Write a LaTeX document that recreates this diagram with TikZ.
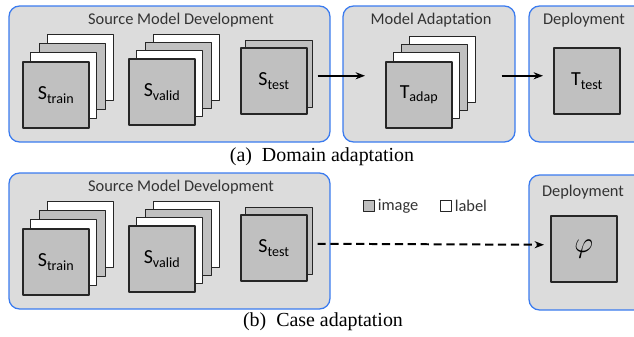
\documentclass[tikz,border=0pt]{standalone}
\usepackage{fontspec}
\setmainfont{Liberation Serif}
\newfontfamily\calib{Carlito}
\usetikzlibrary{arrows.meta}

\definecolor{panelfill}{HTML}{DCDCDC}
\definecolor{panelline}{HTML}{3A7BEF}
\definecolor{imgfill}{HTML}{C0C0C0}
\newcommand\imglabel[2]{#1\raisebox{-0.4ex}{\fontsize{12}{12}\selectfont #2}}

\begin{document}
\begin{tikzpicture}[x=0.03cm, y=-0.03cm, line join=round, >={Stealth[length=8pt,width=6pt]},
	panel/.style={draw=panelline, fill=panelfill, line width=1.1pt, rounded corners=9pt},
	sheet/.style={draw=black!85, line width=0.8pt},
	img/.style={draw=black!85, fill=imgfill, line width=1.3pt, minimum size=1.98cm, inner sep=0pt, anchor=north west, font=\calib\fontsize{17}{17}\selectfont},
	title/.style={font=\calib\fontsize{14}{14}\selectfont, text=black!80},
	legend/.style={font=\calib\fontsize{14}{14}\selectfont, text=black!80, anchor=west, inner sep=2pt},
	capt/.style={font=\fontsize{17}{17}\selectfont},
	flow/.style={->, line width=1.4pt}]
	\clip (0,0) rectangle (634,337);
	% source model development, same in (a) and (b)
	\foreach \dy/\p in {0/a,167/b}{
		\draw[panel] (9,6+\dy) rectangle (330,142+\dy);
		\node[title] (srcttl-\p) at (181,20+\dy) {Source Model Development};
		\foreach \k/\c in {3/white,2/imgfill,1/white}{
			\draw[sheet, fill=\c] ({22+8.5*\k},{61-9*\k+\dy}) rectangle ++(66,66);
			\draw[sheet, fill=\c] ({128+8.5*\k},{58-8*\k+\dy}) rectangle ++(66,66);
		}
		\node[img] (strain-\p) at (22,61+\dy) {\imglabel{S}{train}};
		\node[img] (svalid-\p) at (128,58+\dy) {\imglabel{S}{valid}};
		\draw[sheet, fill=imgfill] (245,40+\dy) rectangle ++(67,67);
		\node[img] (stest-\p) at (240,47+\dy) {\imglabel{S}{test}};
	}
	% (a) model adaptation
	\draw[panel] (343,6) rectangle (515,142);
	\node[title] (adapttl) at (431,20) {Model Adaptation};
	\foreach \k/\c in {3/white,2/imgfill,1/white}
		\draw[sheet, fill=\c] ({385+8*\k},{61-8.3*\k}) rectangle ++(66,66);
	\node[img] (tadap) at (385,61) {\imglabel{T}{adap}};
	% deployment
	\draw[panel] (529,6) rectangle (660,142);
	\node[title] (depttl-a) at (584,20) {Deployment};
	\node[img] (ttest) at (553,47) {\imglabel{T}{test}};
	\draw[panel] (529,175) rectangle (660,310);
	\node[title] (depttl-b) at (583,192) {Deployment};
	\node[img, font=\fontsize{26}{26}\selectfont] (phi) at (550,215) {$\varphi$};
	% legend
	\node[draw=black!85, fill=imgfill, line width=1pt, minimum size=0.34cm, inner sep=0pt] (legimg) at (369,206) {};
	\node[legend] (legimgtxt) at (legimg.east) {image};
	\node[draw=black!85, fill=white, line width=1pt, minimum size=0.34cm, inner sep=0pt] (leglbl) at (446,206) {};
	\node[legend] (leglbltxt) at (leglbl.east) {label};
	% arrows
	\draw[flow] ([shift={(10,-5)}]stest-a.east) -- ([shift={(-20,-19)}]tadap.west);
	\draw[flow] ([shift={(49,-19)}]tadap.east) -- ([shift={(-10,-5)}]ttest.west);
	\draw[flow, line width=1.7pt, dash pattern=on 7pt off 4pt] ([shift={(10,-4)}]stest-b.east) -- ([shift={(-6,-4)}]phi.west);
	% captions
	\node[capt] (capa) at (322,157) {(a)\ \ Domain adaptation};
	\node[capt] (capb) at (323,322) {(b)\ \ Case adaptation};
\end{tikzpicture}
\end{document}
